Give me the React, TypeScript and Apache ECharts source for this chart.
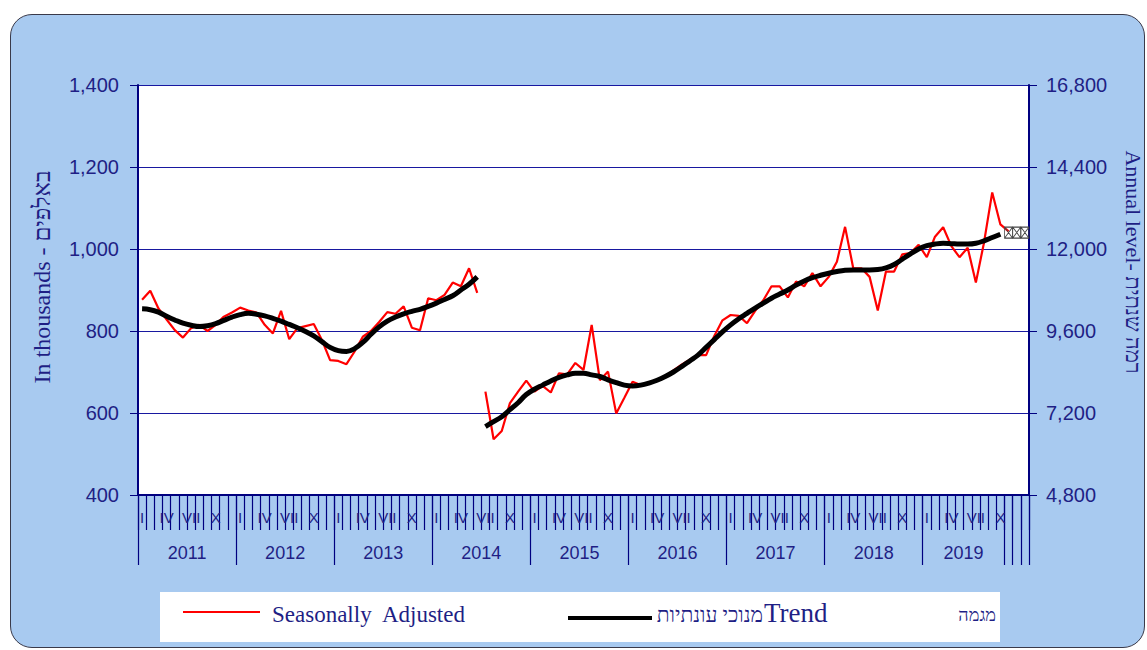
import React, { useEffect, useRef } from "react";
import * as echarts from "echarts";

// ---- data ----
const yearLabels = ["2011", "2012", "2013", "2014", "2015", "2016", "2017", "2018", "2019", "", "", ""];
const yearLengths = [12, 12, 12, 12, 12, 12, 12, 12, 10, 1, 1, 1];
const monthLabels = ["I", "", "", "IV", "", "", "VII", "", "", "X", "", ""];

// Seasonally adjusted, Jan 2011 - Jun 2014
const saPart1 = [
  876, 898, 855, 828, 802, 784, 807, 815, 800, 815, 835, 845,
  857, 850, 845, 815, 794, 849, 780, 807, 812, 817, 778, 729,
  727, 719, 750, 786, 800, 822, 846, 842, 860, 808, 802, 880,
  875, 888, 918, 909, 953, 893,
];
// Seasonally adjusted, Jul 2014 - Nov 2019 (new series)
const saPart2 = [
  652, 536, 556, 624, 652, 679,
  652, 666, 650, 697, 694, 722, 705, 815, 680, 701, 599, 637,
  676, 668, 673, 678, 689, 704, 718, 730, 741, 741, 788, 826,
  839, 837, 819, 849, 875, 909, 909, 882, 921, 909, 941, 909,
  932, 969, 1054, 953, 953, 932, 850, 945, 945, 987, 990, 1010,
  980, 1030, 1053, 1007, 980, 1003, 918, 1016, 1138, 1060, 1043,
];
// Trend, Jan 2011 - Jun 2014
const trendPart1 = [
  854, 852, 846, 836, 827, 819, 814, 811, 813, 818, 826, 834,
  840, 843, 841, 837, 831, 824, 816, 808, 799, 788, 774, 760,
  752, 750, 757, 772, 792, 810, 824, 834, 842, 848, 853, 860,
  868, 877, 886, 900, 914, 932,
];
// Trend, Jul 2014 - Oct 2019
const trendPart2 = [
  567, 579, 591, 608, 625, 645,
  658, 668, 678, 687, 693, 697, 697, 693, 689, 681, 674, 668,
  666, 668, 673, 680, 689, 700, 713, 727, 741, 760, 779, 798,
  815, 830, 843, 856, 868, 880, 890, 900, 912, 922, 930, 936,
  941, 945, 948, 949, 949, 949, 950, 954, 962, 975, 988, 1000,
  1008, 1012, 1014, 1013, 1012, 1012, 1014, 1020, 1028, 1036,
];
// "מגמה" markers at the last three categories
const magmaValues = [1040, 1040, 1040];

const leftTicks = { min: 400, max: 1400, interval: 200 };
const rightTicks = { min: 4800, max: 16800, interval: 2400 };

// ---- derived categories ----
const categories: string[] = [];
const monthLabelAt: string[] = [];
const yearLabelAt: string[] = [];
const yearTickIdx = new Set<number>();
const yearLabelIdx = new Set<number>();
yearLengths.forEach((len, g) => {
  const start = categories.length;
  yearTickIdx.add(start);
  if (yearLabels[g]) yearLabelIdx.add(start + len / 2);
  for (let m = 0; m < len; m++) {
    categories.push(`c${g}_${m}`);
    monthLabelAt.push(yearLabels[g] ? monthLabels[m] : "");
    yearLabelAt.push("");
  }
  if (yearLabels[g]) yearLabelAt[start + len / 2] = yearLabels[g];
});
const N = categories.length;
const split2 = saPart1.length;
const sa1 = categories.map((_, i) => (i < split2 ? saPart1[i] : null));
const sa2 = categories.map((_, i) => (i >= split2 && i - split2 < saPart2.length ? saPart2[i - split2] : null));
const tr1 = categories.map((_, i) => (i < trendPart1.length ? trendPart1[i] : null));
const tr2 = categories.map((_, i) =>
  i >= split2 && i - split2 < trendPart2.length ? trendPart2[i - split2] : null
);
const magStart = N - magmaValues.length;
const mag = categories.map((_, i) => (i >= magStart ? magmaValues[i - magStart] : null));

const NAVY = "#000080";
const GRID = "#1818A0";
const TXT = "#1F1F85";
const SERIF = "'Liberation Serif', 'Times New Roman', 'DejaVu Serif', serif";
const SANS = "'Liberation Sans', Arial, 'DejaVu Sans', sans-serif";

export default function App() {
  const ref = useRef<HTMLDivElement>(null);
  useEffect(() => {
    if (!ref.current) return;
    const chart = echarts.init(ref.current, undefined, { renderer: "svg" });
    const bandW = (1029 - 138) / N;
    chart.setOption({
      animation: false,
      backgroundColor: "transparent",
      grid: {
        left: 138,
        right: 1147 - 1029,
        top: 85,
        bottom: 650 - 495,
        show: true,
        backgroundColor: "#ffffff",
        borderWidth: 0,
      },
      xAxis: [
        {
          type: "category",
          data: categories,
          boundaryGap: true,
          position: "bottom",
          axisLine: { show: true, lineStyle: { color: NAVY, width: 2 } },
          axisTick: { show: true, interval: 0, length: 35, lineStyle: { color: NAVY, width: 1.2 } },
          axisLabel: {
            interval: 0,
            margin: 15,
            color: TXT,
            fontSize: 15,
            fontFamily: SANS,
            formatter: (_v: string, i: number) => monthLabelAt[i],
          },
          splitLine: { show: false },
        },
        {
          type: "category",
          data: categories,
          boundaryGap: true,
          position: "bottom",
          offset: 0,
          axisLine: { show: false },
          axisTick: {
            show: true,
            interval: (i: number) => yearTickIdx.has(i),
            length: 70,
            lineStyle: { color: NAVY, width: 1.2 },
          },
          axisLabel: {
            interval: (i: number) => yearLabelIdx.has(i),
            margin: 49,
            color: TXT,
            fontSize: 18,
            fontFamily: SANS,
            padding: [0, bandW, 0, 0],
            formatter: (_v: string, i: number) => yearLabelAt[i],
          },
          splitLine: { show: false },
        },
      ],
      yAxis: [
        {
          type: "value",
          position: "left",
          min: leftTicks.min,
          max: leftTicks.max,
          interval: leftTicks.interval,
          axisLine: { show: true, lineStyle: { color: NAVY, width: 2 } },
          axisTick: { show: true, length: 8, lineStyle: { color: NAVY } },
          axisLabel: {
            margin: 19,
            color: TXT,
            fontSize: 20,
            fontFamily: SANS,
            formatter: (v: number) => v.toLocaleString("en-US"),
          },
          splitLine: { show: true, lineStyle: { color: GRID, width: 1 } },
        },
        {
          type: "value",
          position: "right",
          min: rightTicks.min,
          max: rightTicks.max,
          interval: rightTicks.interval,
          axisLine: { show: true, lineStyle: { color: NAVY, width: 2 } },
          axisTick: { show: true, length: 8, lineStyle: { color: NAVY } },
          axisLabel: {
            margin: 17,
            color: TXT,
            fontSize: 20,
            fontFamily: SANS,
            formatter: (v: number) => v.toLocaleString("en-US"),
          },
          splitLine: { show: false },
        },
      ],
      series: [
        {
          name: "Seasonally Adjusted",
          type: "line",
          data: sa1,
          showSymbol: false,
          lineStyle: { color: "#FF0000", width: 2.2 },
          z: 2,
        },
        {
          name: "Seasonally Adjusted",
          type: "line",
          data: sa2,
          showSymbol: false,
          lineStyle: { color: "#FF0000", width: 2.2 },
          z: 2,
        },
        {
          name: "Trend",
          type: "line",
          data: tr1,
          showSymbol: false,
          smooth: 0.4,
          lineStyle: { color: "#000000", width: 5 },
          z: 3,
        },
        {
          name: "Trend",
          type: "line",
          data: tr2,
          showSymbol: false,
          smooth: 0.4,
          lineStyle: { color: "#000000", width: 5 },
          z: 3,
        },
        {
          name: "מגמה",
          type: "line",
          data: mag,
          showSymbol: true,
          symbol: "path://M0,0L10,0L10,10L0,10ZM0,0L10,10M10,0L0,10",
          symbolSize: [8, 11],
          itemStyle: { color: "rgba(255,255,255,0)", borderColor: "#444", borderWidth: 0.9 },
          lineStyle: { width: 0, opacity: 0 },
          z: 4,
        },
      ],
      graphic: [
        {
          type: "text",
          x: 42,
          y: 277,
          rotation: Math.PI / 2,
          style: {
            text: "In thousands - באלפים",
            fill: TXT,
            font: `24px ${SERIF}`,
            textAlign: "center",
            textVerticalAlign: "middle",
          },
        },
        {
          type: "text",
          x: 1133,
          y: 262,
          rotation: -Math.PI / 2,
          style: {
            text: "Annual level- רמה שנתית",
            fill: TXT,
            font: `22px ${SERIF}`,
            textAlign: "center",
            textVerticalAlign: "middle",
          },
        },
        {
          type: "rect",
          shape: { x: 160, y: 592, width: 840, height: 50 },
          style: { fill: "#ffffff", stroke: "none" },
        },
        {
          type: "line",
          shape: { x1: 183, y1: 612, x2: 260, y2: 612 },
          style: { stroke: "#FF0000", lineWidth: 2 },
        },
        {
          type: "text",
          x: 272,
          y: 614,
          style: {
            text: "Seasonally  Adjusted",
            fill: TXT,
            font: `23px ${SERIF}`,
            textAlign: "left",
            textVerticalAlign: "middle",
          },
        },
        {
          type: "line",
          shape: { x1: 568, y1: 618, x2: 652, y2: 618 },
          style: { stroke: "#000000", lineWidth: 4 },
        },
        {
          type: "text",
          x: 763,
          y: 615,
          style: {
            text: "מנוכי עונתיות",
            fill: TXT,
            font: `21px ${SERIF}`,
            textAlign: "right",
            textVerticalAlign: "middle",
          },
        },
        {
          type: "text",
          x: 764,
          y: 613,
          style: {
            text: "Trend",
            fill: TXT,
            font: `27px ${SERIF}`,
            textAlign: "left",
            textVerticalAlign: "middle",
          },
        },
        {
          type: "text",
          x: 996,
          y: 615,
          style: {
            text: "מגמה",
            fill: TXT,
            font: `18px ${SERIF}`,
            textAlign: "right",
            textVerticalAlign: "middle",
          },
        },
      ],
    });
    return () => chart.dispose();
  }, []);

  return (
    <div
      style={{
        position: "absolute",
        left: 0,
        top: 0,
        width: 1147,
        height: 650,
        background: "#ffffff",
        overflow: "hidden",
      }}
    >
      <div
        style={{
          position: "absolute",
          left: 10,
          top: 14,
          width: 1133,
          height: 632,
          background: "#A8CAF0",
          border: "1.5px solid #3a3a4a",
          borderRadius: 22,
        }}
      />
      <div ref={ref} style={{ position: "absolute", left: 0, top: 0, width: 1147, height: 650 }} />
    </div>
  );
}
